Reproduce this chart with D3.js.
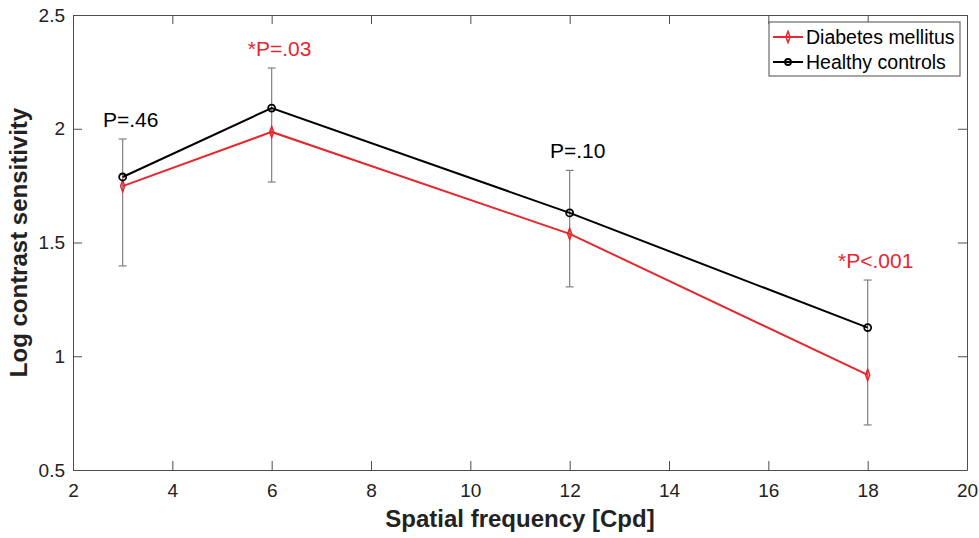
<!DOCTYPE html>
<html>
<head>
<meta charset="utf-8">
<script src="https://cdn.jsdelivr.net/npm/d3@7"></script>
<style>
  body { margin: 0; background: #fff; }
  text { font-family: Arial, "Liberation Sans", sans-serif; }
</style>
</head>
<body>
<script>
// data
const freqs = [3, 6, 12, 18]
const diabetes = [1.748, 1.986, 1.538, 0.918]
const healthy = [1.788, 2.091, 1.630, 1.126]
const errTop = [1.955, 2.267, 1.817, 1.335]
const errBottom = [1.397, 1.766, 1.305, 0.698]
const pLabels = ["P=.46", "*P=.03", "P=.10", "*P<.001"]
const pSignif = [false, true, false, true]
const xTicks = [2, 4, 6, 8, 10, 12, 14, 16, 18, 20]
const yTicks = [0.5, 1, 1.5, 2, 2.5]

const red = "#e8262d"
const axisCol = "#4d4d4d"

let margin = {top: 15, right: 12, bottom: 68, left: 73},
  width = 979 - margin.left - margin.right,
  height = 538 - margin.top - margin.bottom

let svg = d3.select("body").append("svg")
  .attr("width", 979).attr("height", 538)
let g = svg.append("g")
  .attr("transform", "translate(" + margin.left + "," + margin.top + ")")

let x = d3.scaleLinear().domain([2, 20]).range([0, width])
let y = d3.scaleLinear().domain([0.5, 2.5]).range([height, 0])

// axes, MATLAB style box with inward ticks
function styleAxis(sel) {
  sel.select(".domain").attr("stroke", axisCol)
  sel.selectAll(".tick line").attr("stroke", axisCol)
  sel.selectAll(".tick text").attr("fill", "#222").style("font-size", "19px")
}
g.append("g").attr("transform", "translate(0," + height + ")")
  .call(d3.axisBottom(x).tickValues(xTicks).tickSizeInner(-9).tickSizeOuter(0).tickPadding(14))
  .call(styleAxis)
g.append("g")
  .call(d3.axisLeft(y).tickValues(yTicks).tickFormat(d3.format("")).tickSizeInner(-9).tickSizeOuter(0).tickPadding(8))
  .call(styleAxis)
g.append("g")
  .call(d3.axisTop(x).tickValues(xTicks).tickSizeInner(-9).tickSizeOuter(0).tickFormat(""))
  .call(styleAxis)
g.append("g").attr("transform", "translate(" + width + ",0)")
  .call(d3.axisRight(y).tickValues(yTicks).tickSizeInner(-9).tickSizeOuter(0).tickFormat(""))
  .call(styleAxis)

// error bars
let eb = g.append("g").selectAll("g").data(freqs).enter().append("g")
eb.append("line")
  .attr("x1", d => x(d)).attr("x2", d => x(d))
  .attr("y1", (d, i) => y(errTop[i])).attr("y2", (d, i) => y(errBottom[i]))
  .attr("stroke", "#808080").attr("stroke-width", 1.2)
eb.append("line")
  .attr("x1", d => x(d) - 4).attr("x2", d => x(d) + 4)
  .attr("y1", (d, i) => y(errTop[i])).attr("y2", (d, i) => y(errTop[i]))
  .attr("stroke", "#808080").attr("stroke-width", 1.2)
eb.append("line")
  .attr("x1", d => x(d) - 4).attr("x2", d => x(d) + 4)
  .attr("y1", (d, i) => y(errBottom[i])).attr("y2", (d, i) => y(errBottom[i]))
  .attr("stroke", "#808080").attr("stroke-width", 1.2)

let line = d3.line().x(d => x(d[0])).y(d => y(d[1]))

// diabetes
g.append("path").datum(freqs.map((f, i) => [f, diabetes[i]]))
  .attr("d", line).attr("fill", "none").attr("stroke", red).attr("stroke-width", 2)
g.append("g").selectAll("path").data(freqs).enter().append("path")
  .attr("d", d3.symbol(d3.symbolDiamond, 30))
  .attr("transform", (d, i) => "translate(" + x(d) + "," + y(diabetes[i]) + ") scale(0.7,1.1)")
  .attr("fill", "none").attr("stroke", red).attr("stroke-width", 2)

// healthy
g.append("path").datum(freqs.map((f, i) => [f, healthy[i]]))
  .attr("d", line).attr("fill", "none").attr("stroke", "#000").attr("stroke-width", 2)
g.append("g").selectAll("circle").data(freqs).enter().append("circle")
  .attr("cx", d => x(d)).attr("cy", (d, i) => y(healthy[i])).attr("r", 3.5)
  .attr("fill", "none").attr("stroke", "#000").attr("stroke-width", 1.8)

// p values
g.append("g").selectAll("text").data(freqs).enter().append("text")
  .attr("x", d => x(d) + 8)
  .attr("y", (d, i) => y(errTop[i]) - 12)
  .attr("text-anchor", "middle")
  .style("font-size", "21px")
  .attr("fill", (d, i) => pSignif[i] ? red : "#000")
  .text((d, i) => pLabels[i])

// axis titles
svg.append("text").attr("x", margin.left + width / 2).attr("y", 527)
  .attr("text-anchor", "middle").style("font-size", "24px").style("font-weight", "bold")
  .attr("fill", "#222").text("Spatial frequency [Cpd]")
svg.append("text").attr("transform", "translate(27," + (margin.top + height / 2) + ") rotate(-90)")
  .attr("text-anchor", "middle").style("font-size", "24px").style("font-weight", "bold")
  .attr("fill", "#222").text("Log contrast sensitivity")

// legend
let leg = svg.append("g").attr("transform", "translate(769,22)")
leg.append("rect").attr("width", 191).attr("height", 54)
  .attr("fill", "#fff").attr("stroke", axisCol).attr("stroke-width", 1)
leg.append("line").attr("x1", 4).attr("x2", 34).attr("y1", 15).attr("y2", 15)
  .attr("stroke", red).attr("stroke-width", 2)
leg.append("path").attr("d", d3.symbol(d3.symbolDiamond, 30))
  .attr("transform", "translate(19,15) scale(0.7,1.1)")
  .attr("fill", "none").attr("stroke", red).attr("stroke-width", 2)
leg.append("text").attr("x", 37).attr("y", 22).style("font-size", "19.5px").attr("fill", "#000")
  .text("Diabetes mellitus")
leg.append("line").attr("x1", 4).attr("x2", 34).attr("y1", 40).attr("y2", 40)
  .attr("stroke", "#000").attr("stroke-width", 2)
leg.append("circle").attr("cx", 19).attr("cy", 40).attr("r", 3)
  .attr("fill", "none").attr("stroke", "#000").attr("stroke-width", 1.8)
leg.append("text").attr("x", 37).attr("y", 47).style("font-size", "19.5px").attr("fill", "#000")
  .text("Healthy controls")
</script>
</body>
</html>
